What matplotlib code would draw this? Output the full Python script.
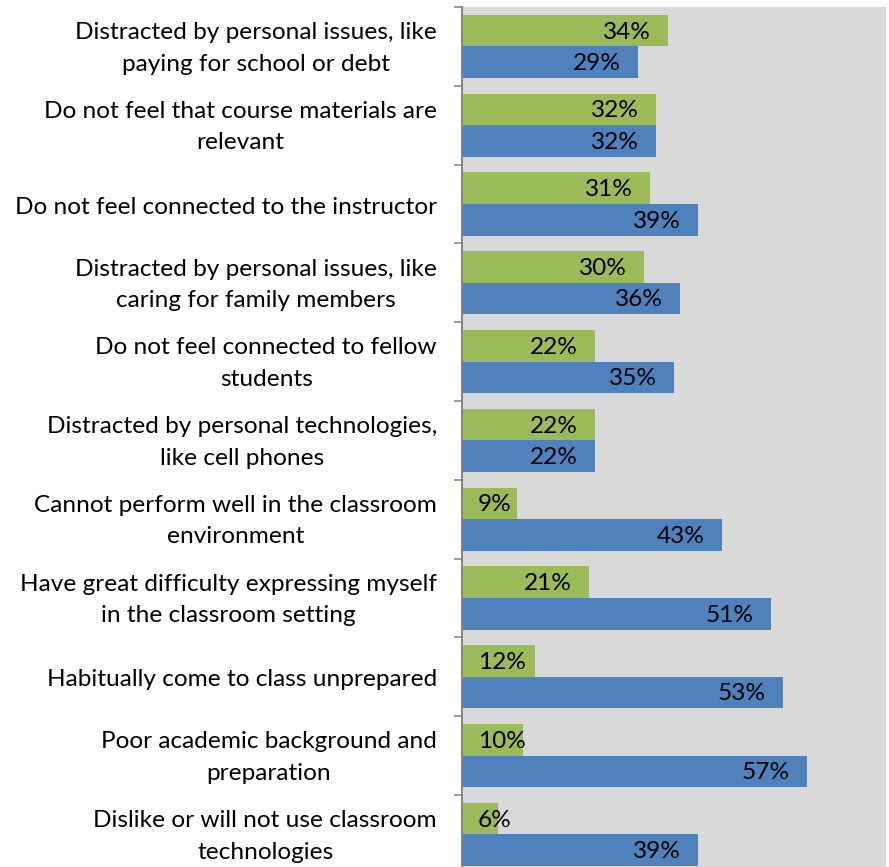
import matplotlib
matplotlib.use("Agg")
import matplotlib.pyplot as plt
import matplotlib.transforms as mtransforms
import numpy as np

categories = [
    "Distracted by personal issues, like\npaying for school or debt",
    "Do not feel that course materials are\nrelevant",
    "Do not feel connected to the instructor",
    "Distracted by personal issues, like\ncaring for family members",
    "Do not feel connected to fellow\nstudents",
    "Distracted by personal technologies,\nlike cell phones",
    "Cannot perform well in the classroom\nenvironment",
    "Have great difficulty expressing myself\nin the classroom setting",
    "Habitually come to class unprepared",
    "Poor academic background and\npreparation",
    "Dislike or will not use classroom\ntechnologies",
]
green_vals = [34, 32, 31, 30, 22, 22, 9, 21, 12, 10, 6]
blue_vals = [29, 32, 39, 36, 35, 22, 43, 51, 53, 57, 39]

GREEN = "#9BBB59"
BLUE = "#4F81BD"
BG = "#D9D9D9"
GREY = "#868686"
FONT = "Lato"
FS = 17.6

plt.rcParams["font.family"] = [FONT, "DejaVu Sans"]

W, H = 889, 867
fig = plt.figure(figsize=(W / 100, H / 100), dpi=100)
ax_left = 462 / W
ax_w = 424 / W
ax_top = 7
ax_h = 866.8
ax = fig.add_axes([ax_left, (H - ax_top - ax_h) / H, ax_w, ax_h / H])
ax.set_facecolor(BG)

n = len(categories)
y = np.arange(n)
bh = 0.4
ax.barh(y - bh / 2, green_vals, height=bh, color=GREEN, edgecolor="none")
ax.barh(y + bh / 2, blue_vals, height=bh, color=BLUE, edgecolor="none")

ax.set_xlim(0, 70)
ax.set_ylim(n - 0.5, -0.5)

for s in ["top", "right", "bottom"]:
    ax.spines[s].set_visible(False)
ax.spines["left"].set_color(GREY)
ax.spines["left"].set_linewidth(1.5)

ax.set_xticks([])
ax.set_yticks(np.arange(-0.5, n + 0.5, 1.0))
ax.set_yticklabels([])
ax.tick_params(axis="y", which="major", length=6, width=1.2, color=GREY, direction="out")

# category labels drawn as text at the category centres
ytrans = mtransforms.blended_transform_factory(ax.transAxes, ax.transData)
for i, c in enumerate(categories):
    dy = -2 if "\n" in c else -3
    off = mtransforms.ScaledTranslation(-25 / 100, dy / 100, fig.dpi_scale_trans)
    ax.text(0, i, c, transform=ytrans + off, ha="right", va="center",
            multialignment="center", linespacing=1.62, fontsize=FS, color="black")

texts = []
for vals, yoff in ((green_vals, -bh / 2), (blue_vals, bh / 2)):
    for i, v in enumerate(vals):
        t = ax.annotate(f"{v}%", xy=(v, i + yoff), xytext=(-12.5, -1),
                        textcoords="offset points", ha="right", va="center",
                        fontsize=FS, color="black")
        texts.append((t, v, i + yoff))

fig.canvas.draw()
r = fig.canvas.get_renderer()
axis_px = ax.transData.transform((0, 0))[0]
for t, v, yy in texts:
    bb_ = t.get_window_extent(r)
    if bb_.x0 < axis_px + 16:
        t.xy = (0, yy)
        t.set_position((11.5, -1))
        t.set_ha("left")

fig.savefig("out.png", dpi=100, facecolor="white")
